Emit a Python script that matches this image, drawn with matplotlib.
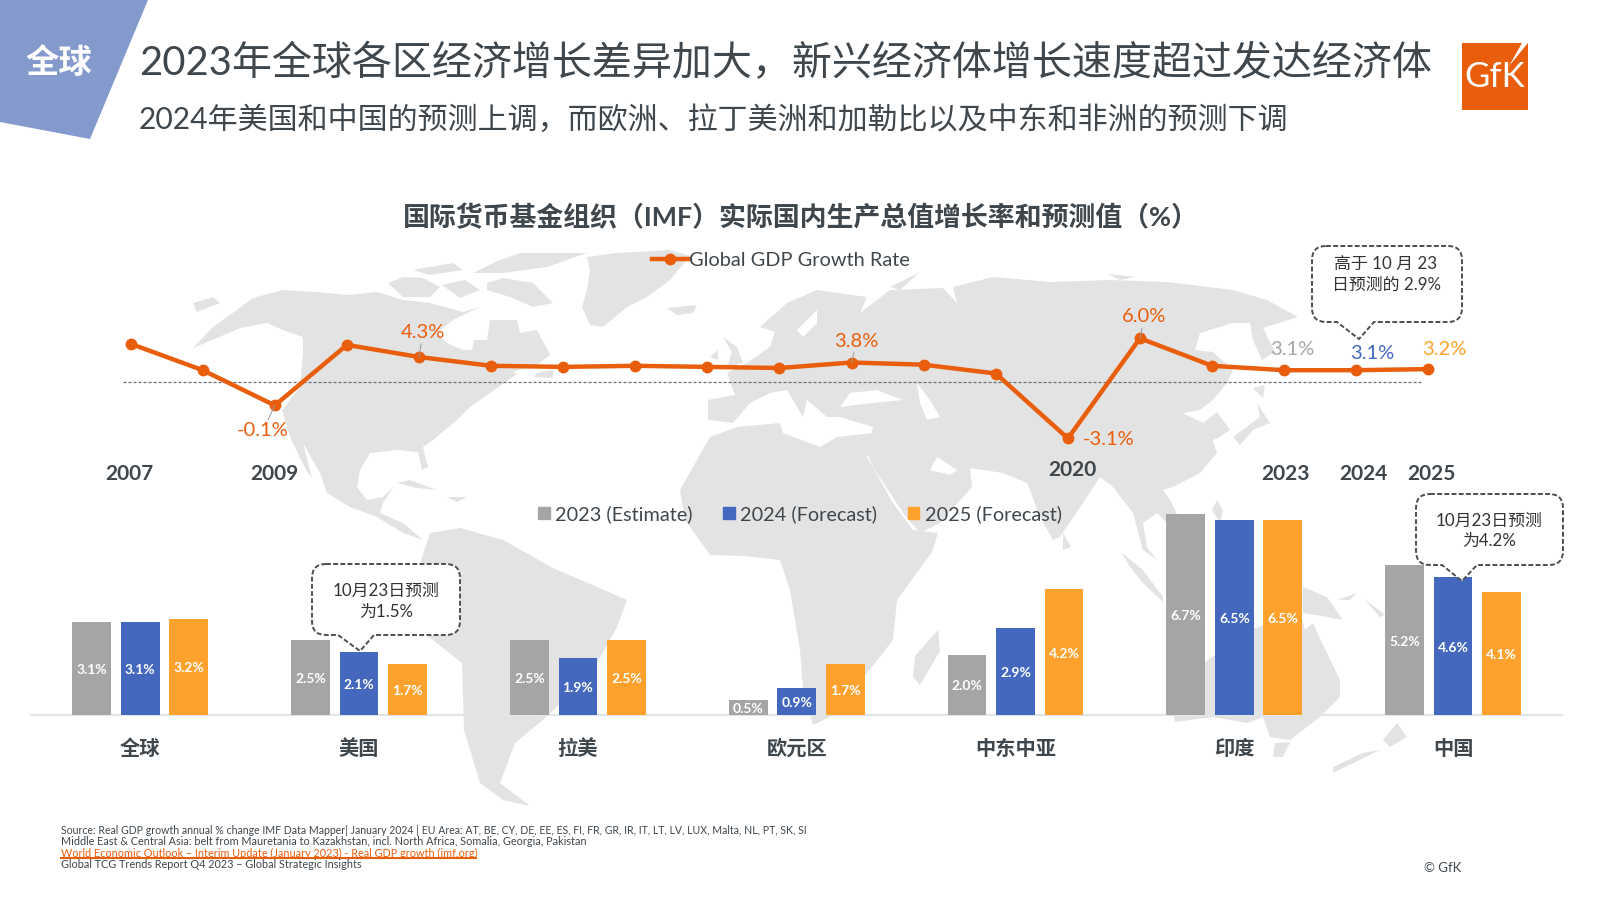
import matplotlib
matplotlib.use("Agg")
import matplotlib.pyplot as plt
from matplotlib.lines import Line2D
from matplotlib.patches import Patch, PathPatch, Polygon, Rectangle
from matplotlib.path import Path

plt.rcParams['font.family'] = ['Lato', 'Noto Sans CJK SC', 'DejaVu Sans']

W, H = 1600, 900
DARK = '#3f474d'
ORANGE = '#e95e0c'
GREY = '#a5a5a5'
BLUE = '#4468be'
AMBER = '#ffa22d'
LAND = '#e3e3e3'

# line chart data
years = list(range(2007, 2026))
gdp = [5.5, 3.1, -0.1, 5.4, 4.3, 3.5, 3.4, 3.5, 3.4, 3.3, 3.8, 3.6, 2.8, -3.1, 6.0, 3.5, 3.1, 3.1, 3.2]
year_labels = ['2007', '2009', '2020', '2023', '2024', '2025']

# bar chart data
regions = ['全球', '美国', '拉美', '欧元区', '中东中亚', '印度', '中国']
est_2023 = [3.1, 2.5, 2.5, 0.5, 2.0, 6.7, 5.0]  # china bar is drawn at 5.0 in the source
fc_2024 = [3.1, 2.1, 1.9, 0.9, 2.9, 6.5, 4.6]
fc_2025 = [3.2, 1.7, 2.5, 1.7, 4.2, 6.5, 4.1]
est_labels = ['3.1%', '2.5%', '2.5%', '0.5%', '2.0%', '6.7%', '5.2%']
fc24_labels = ['3.1%', '2.1%', '1.9%', '0.9%', '2.9%', '6.5%', '4.6%']
fc25_labels = ['3.2%', '1.7%', '2.5%', '1.7%', '4.2%', '6.5%', '4.1%']

# background map outlines, hand traced in picture pixels
land = [
    # north america
    [(193, 348), (213, 327), (230, 315), (253, 298), (283, 290), (317, 292), (347, 295), (377, 292), (403, 300),
     (430, 303), (463, 312), (480, 307), (453, 320), (437, 333), (447, 343), (463, 350), (472, 350), (474, 340),
     (487, 340), (490, 320), (517, 320), (520, 333), (537, 330), (550, 355), (540, 363), (513, 372), (517, 374),
     (490, 393), (470, 407), (457, 420), (433, 440), (423, 447), (428, 467), (422, 470), (418, 452), (397, 450),
     (370, 453), (360, 470), (357, 487), (367, 500), (383, 497), (393, 487), (383, 503), (380, 513), (403, 523),
     (423, 540), (403, 533), (377, 517), (350, 507), (327, 493), (320, 473), (303, 443), (312, 478), (306, 470),
     (290, 437), (282, 410), (300, 387), (303, 353), (303, 337), (283, 330), (267, 323), (240, 328), (217, 338)],
    # canadian islands
    [(388, 283), (403, 277), (423, 278), (440, 287), (430, 297), (403, 297)],
    [(487, 283), (503, 278), (533, 283), (553, 303), (533, 307), (510, 297), (487, 290)],
    [(413, 270), (453, 263), (463, 270), (430, 275)],
    [(473, 273), (500, 260), (520, 253), (587, 253), (547, 267), (503, 273)],
    [(442, 285), (465, 280), (480, 290), (460, 298)],
    # greenland
    [(587, 257), (617, 253), (670, 250), (690, 256), (670, 280), (647, 297), (627, 307), (603, 327), (590, 325),
     (582, 307), (587, 290), (590, 270)],
    # small islands around the atlantic
    [(193, 303), (213, 297), (220, 303), (197, 312)],
    [(537, 373), (553, 370), (553, 378), (533, 377)],
    [(397, 483), (410, 480), (437, 490), (417, 488)],
    [(447, 497), (467, 497), (457, 502)],
    [(667, 308), (697, 305), (693, 313), (677, 315)],
    [(723, 337), (737, 347), (743, 363), (727, 367), (732, 352)],
    [(710, 357), (718, 350), (718, 360)],
    # south america
    [(421, 560), (430, 533), (460, 528), (503, 540), (551, 567), (627, 600), (617, 627), (597, 663), (551, 713),
     (515, 743), (500, 783), (530, 806), (503, 800), (480, 783), (464, 730), (462, 663), (429, 637), (421, 610)],
    # africa
    [(680, 490), (710, 437), (737, 427), (780, 423), (783, 433), (820, 447), (837, 437), (873, 433), (867, 457),
     (893, 503), (913, 530), (938, 533), (932, 552), (897, 600), (893, 640), (864, 677), (850, 700), (830, 717),
     (813, 725), (803, 690), (800, 650), (790, 590), (780, 560), (745, 556), (710, 555), (685, 520)],
    # eurasia
    [(708, 400), (735, 395), (727, 373), (747, 363), (770, 347), (775, 332), (760, 327), (787, 303), (817, 290),
     (867, 297), (860, 313), (890, 290), (943, 288), (957, 303), (953, 287), (993, 277), (1050, 282), (1110, 280),
     (1167, 282), (1233, 290), (1267, 300), (1298, 317), (1263, 328), (1275, 352), (1262, 360), (1253, 340),
     (1250, 323), (1233, 323), (1200, 333), (1195, 350), (1213, 352), (1233, 370), (1227, 383), (1213, 400),
     (1200, 410), (1183, 413), (1203, 423), (1217, 412), (1230, 430), (1218, 438), (1213, 440), (1217, 453),
     (1200, 473), (1173, 487), (1163, 490), (1170, 500), (1180, 520), (1167, 523), (1157, 513), (1143, 523),
     (1147, 547), (1157, 560), (1143, 550), (1133, 513), (1113, 487), (1100, 477), (1083, 503), (1060, 537),
     (1053, 540), (1040, 517), (1030, 490), (1027, 483), (1003, 473), (970, 468), (972, 487), (940, 523),
     (920, 533), (903, 513), (873, 467), (867, 453), (873, 427), (840, 417), (827, 417), (807, 400), (803, 417),
     (787, 390), (770, 393), (750, 403), (733, 423), (708, 420)],
    # japan, sri lanka, philippines, sumatra
    [(1257, 403), (1270, 423), (1253, 430), (1240, 445), (1233, 437), (1260, 417)],
    [(1253, 388), (1265, 385), (1263, 398)],
    [(1063, 533), (1071, 547), (1063, 550)],
    [(1217, 500), (1223, 510), (1220, 523), (1212, 510)],
    [(1122, 553), (1143, 570), (1163, 597), (1163, 602), (1143, 583), (1130, 567)],
    # new guinea and the islands east of it
    [(1303, 587), (1327, 597), (1343, 620), (1327, 617), (1303, 613)],
    [(1337, 600), (1357, 593), (1350, 600)],
    [(1363, 598), (1385, 615), (1380, 617)],
    # australia, tasmania
    [(1175, 722), (1170, 700), (1168, 665), (1205, 662), (1250, 630), (1300, 612), (1305, 630), (1313, 623),
     (1322, 643), (1340, 680), (1340, 697), (1320, 717), (1290, 740), (1270, 737), (1263, 717), (1247, 723),
     (1213, 717)],
    [(1273, 757), (1275, 743), (1290, 742), (1283, 757)],
    # new zealand, madagascar
    [(1397, 723), (1407, 737), (1390, 747), (1383, 740)],
    [(1380, 750), (1333, 773), (1333, 767), (1363, 753)],
    [(938, 630), (940, 651), (920, 685), (913, 677), (915, 656)],
    # arctic bits
    [(890, 287), (920, 272), (900, 290)],
    [(1108, 274), (1135, 277), (1120, 280)],
]
# seas cut out of the land shapes
seas = [
    [(840, 407), (850, 393), (877, 390), (903, 400), (873, 403)],
    [(917, 383), (930, 400), (940, 417), (927, 420), (920, 403)],
    [(797, 330), (817, 310), (817, 323), (803, 337)],
    [(937, 457), (957, 470), (950, 475), (930, 470)],
]


def px_axes(left, top, right, bottom, **kw):
    # axes placed by picture pixels, y measured from the top
    return fig.add_axes([left / W, 1 - bottom / H, (right - left) / W, (bottom - top) / H], **kw)


def callout(ax, x0, y0, x1, y1, tail0, tip, tail1, r=14):
    verts = [(x0 + r, y0), (x1 - r, y0), (x1, y0), (x1, y0 + r), (x1, y1 - r), (x1, y1), (x1 - r, y1),
             (tail1, y1), tip, (tail0, y1), (x0 + r, y1), (x0, y1), (x0, y1 - r), (x0, y0 + r), (x0, y0),
             (x0 + r, y0)]
    codes = [Path.MOVETO, Path.LINETO, Path.CURVE3, Path.CURVE3, Path.LINETO, Path.CURVE3, Path.CURVE3,
             Path.LINETO, Path.LINETO, Path.LINETO, Path.LINETO, Path.CURVE3, Path.CURVE3, Path.LINETO,
             Path.CURVE3, Path.CURVE3]
    ax.add_patch(PathPatch(Path(verts, codes), fc='white', ec='#4a4f55', lw=1.4, ls=(0, (2.5, 1.2)), zorder=6))


fig = plt.figure(figsize=(16, 9), dpi=100, facecolor='white')

# page layer in pixels: map, header, footer
page = px_axes(0, 0, W, H)
page.set_xlim(0, W)
page.set_ylim(H, 0)
page.axis('off')

for shape in land:
    page.add_patch(Polygon(shape, closed=True, fc=LAND, ec='none', zorder=1))
for shape in seas:
    page.add_patch(Polygon(shape, closed=True, fc='white', ec='none', zorder=1.5))

page.add_patch(Polygon([(0, 0), (148, 0), (90, 139), (0, 122)], closed=True, fc='#8499cc', ec='none'))
page.text(59, 62, '全球', color='white', fontsize=24, fontweight='bold', ha='center', va='center')
page.text(139, 63, '2023年全球各区经济增长差异加大，新兴经济体增长速度超过发达经济体', color=DARK, fontsize=28.85, va='center')
page.text(139, 119, '2024年美国和中国的预测上调，而欧洲、拉丁美洲和加勒比以及中东和非洲的预测下调', color=DARK, fontsize=21.6, va='center')

page.add_patch(Rectangle((1462, 43), 66, 67, fc=ORANGE, ec='none'))
page.add_patch(Polygon([(1528, 43), (1522, 43), (1509, 66)], closed=True, fc='white', ec='none'))
page.text(1495, 77, 'GfK', color='white', fontsize=25, ha='center', va='center')

page.text(801, 217, '国际货币基金组织（IMF）实际国内生产总值增长率和预测值（%）', color=DARK, fontsize=19.4, fontweight='bold',
          ha='center', va='center')

for label, xp, yp in zip(year_labels, [129, 274, 1072, 1285, 1363, 1431], [474, 474, 470, 474, 474, 474]):
    page.text(xp, yp, label, color=DARK, fontsize=15, fontweight='bold', ha='center', va='center')

foot = 7.8
page.text(61, 830, 'Source: Real GDP growth annual % change IMF Data Mapper| January 2024 | EU Area: AT, BE, CY, DE, EE, ES, FI, FR, GR, IR, IT, LT, LV, LUX, Malta, NL, PT, SK, SI',
          color=DARK, fontsize=7.6, va='center')
page.text(61, 841.5, 'Middle East & Central Asia: belt from Mauretania to Kazakhstan, incl. North Africa, Somalia, Georgia, Pakistan',
          color=DARK, fontsize=foot, va='center')
page.text(61, 853, 'World Economic Outlook – Interim Update (January 2023) - Real GDP growth (imf.org)',
          color=ORANGE, fontsize=foot, va='center')
page.plot([61, 476], [857.5, 857.5], color=ORANGE, lw=1.5, zorder=3)
page.text(61, 865, 'Global TCG Trends Report Q4 2023 – Global Strategic Insights', color=DARK, fontsize=foot, va='center')
page.text(1443, 868, '© GfK', color=DARK, fontsize=9.5, ha='center', va='center')

# growth line, 72.1 px per year and 11 px per percentage point
line_ax = px_axes(94.55, 327.3, 1464.45, 448.3)
line_ax.patch.set_alpha(0)
line_ax.set_xlim(2006.5, 2025.5)
line_ax.set_ylim(-4, 7)
line_ax.axis('off')
line_ax.plot([2006.89, 2024.9], [2.0, 2.0], color='#6b7278', lw=0.9, ls=(0, (2.5, 1.5)), zorder=2)
line_ax.plot(years, gdp, color=ORANGE, lw=3.2, marker='o', ms=7.5, zorder=3, solid_capstyle='round')

point_labels = [
    (2011, '4.3%', ORANGE, 4, 24.5, True),
    (2009, '-0.1%', ORANGE, -12, -25.5, True),
    (2017, '3.8%', ORANGE, 5, 21.5, True),
    (2021, '6.0%', ORANGE, 4, 21.5, True),
    (2020, '-3.1%', ORANGE, 41, -1.5, False),
    (2023, '3.1%', GREY, 8, 20.5, False),
    (2024, '3.1%', BLUE, 16, 16.5, False),
    (2025, '3.2%', AMBER, 16, 19.5, False),
]
for yr, txt, col, dx, dy, leader in point_labels:
    val = gdp[years.index(yr)]
    line_ax.annotate(txt, xy=(yr, val), xytext=(dx, dy), textcoords='offset pixels', color=col, fontsize=14.5,
                     ha='center', va='center', zorder=4,
                     arrowprops=dict(arrowstyle='-', color='#9a9a9a', lw=0.7, shrinkA=0, shrinkB=0) if leader else None)

fig.legend(handles=[Line2D([], [], color=ORANGE, lw=3.2, marker='o', ms=7.5)], labels=['Global GDP Growth Rate'],
           loc='center left', bbox_to_anchor=(652 / W, 1 - 260 / H), frameon=False, fontsize=14.4,
           labelcolor=DARK, handlelength=1.8, handletextpad=0.05, borderpad=0, borderaxespad=0)

# regional bars, 218.8 px per group and 30 px per percentage point
bar_ax = px_axes(30.6, 505, 1562, 715)
bar_ax.patch.set_alpha(0)
bar_ax.set_xlim((30.6 - 140.3) / 218.8, (1562 - 140.3) / 218.8)
bar_ax.set_ylim(0, 7)
for side in ['top', 'left', 'right']:
    bar_ax.spines[side].set_visible(False)
bar_ax.spines['bottom'].set_color('#dfe5e9')
bar_ax.spines['bottom'].set_linewidth(1.5)
bar_ax.set_yticks([])
bar_ax.set_xticks(range(len(regions)), regions, fontsize=14.6, fontweight='bold', color=DARK)
bar_ax.tick_params(axis='x', length=0, pad=17)

series = [(est_2023, est_labels, GREY, '2023 (Estimate)'), (fc_2024, fc24_labels, BLUE, '2024 (Forecast)'),
          (fc_2025, fc25_labels, AMBER, '2025 (Forecast)')]
handles = []
for i, (vals, labels, col, name) in enumerate(series):
    xs = [k + (i - 1) * 0.2217 for k in range(len(regions))]
    handles.append(Patch(color=col, label=name))
    bars = bar_ax.bar(xs, vals, width=0.177, color=col, zorder=3)
    for b, v, txt in zip(bars, vals, labels):
        bar_ax.text(b.get_x() + b.get_width() / 2, v / 2 - 0.05, txt, color='white', fontsize=10, fontweight='bold',
                    ha='center', va='center', zorder=4)

fig.legend(handles=handles, loc='center left', bbox_to_anchor=(538 / W, 1 - 514 / H), ncol=3, frameon=False,
           fontsize=14.3, labelcolor=DARK, handlelength=0.58, handleheight=0.58, handletextpad=0.27,
           columnspacing=1.55, borderpad=0, borderaxespad=0)

# callouts sit over everything else
note = px_axes(0, 0, W, H)
note.patch.set_alpha(0)
note.set_xlim(0, W)
note.set_ylim(H, 0)
note.axis('off')
callout(note, 1312, 246, 1462, 322, 1337, (1359, 339), 1374)
note.text(1386, 265, '高于 10 月 23', color='#333333', fontsize=12.2, ha='center', va='center', zorder=7)
note.text(1386, 285, '日预测的 2.9%', color='#333333', fontsize=12.2, ha='center', va='center', zorder=7)
callout(note, 312, 564, 460, 635, 338, (360, 651), 374)
note.text(386, 591, '10月23日预测', color='#333333', fontsize=12.2, ha='center', va='center', zorder=7)
note.text(386, 612, '为1.5%', color='#333333', fontsize=12.2, ha='center', va='center', zorder=7)
callout(note, 1416, 494, 1563, 565, 1442, (1462, 581), 1477)
note.text(1489, 521, '10月23日预测', color='#333333', fontsize=12.2, ha='center', va='center', zorder=7)
note.text(1489, 541, '为4.2%', color='#333333', fontsize=12.2, ha='center', va='center', zorder=7)

fig.savefig('out.png', dpi=100)
